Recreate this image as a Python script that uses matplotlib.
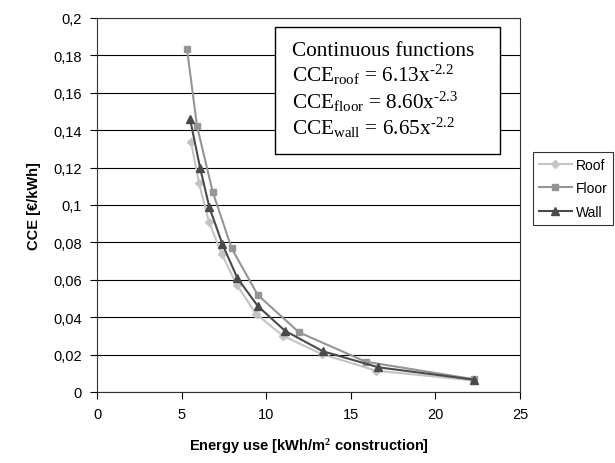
import matplotlib
matplotlib.use("Agg")
import matplotlib.pyplot as plt
from matplotlib.ticker import FuncFormatter

# ---------------------------
# Data
# ---------------------------
roof_x = [5.56, 6.03, 6.62, 7.37, 8.26, 9.40, 11.0, 13.28, 16.5, 22.2]
roof_y = [0.1335, 0.1116, 0.091, 0.0738, 0.0574, 0.0417, 0.030, 0.0203, 0.0114, 0.0062]

floor_x = [5.32, 5.91, 6.84, 7.96, 9.50, 11.94, 15.88, 22.3]
floor_y = [0.1834, 0.1422, 0.107, 0.0768, 0.0519, 0.0319, 0.0162, 0.0068]

wall_x = [5.50, 6.09, 6.64, 7.41, 8.29, 9.50, 11.1, 13.34, 16.63, 22.28]
wall_y = [0.146, 0.120, 0.0988, 0.0791, 0.061, 0.046, 0.0328, 0.0218, 0.0132, 0.0066]

x_ticks = [0, 5, 10, 15, 20, 25]
y_ticks = [0, 0.02, 0.04, 0.06, 0.08, 0.1, 0.12, 0.14, 0.16, 0.18, 0.2]

box_lines = [
    "Continuous functions",
    r"CCE$_{\mathrm{roof}}$ = 6.13x$^{\text{-2.2}}$",
    r"CCE$_{\mathrm{floor}}$ = 8.60x$^{\text{-2.3}}$",
    r"CCE$_{\mathrm{wall}}$ = 6.65x$^{\text{-2.2}}$",
]

plt.rcParams['font.family'] = ['Liberation Sans', 'DejaVu Sans']
plt.rcParams['mathtext.fontset'] = 'custom'
plt.rcParams['mathtext.rm'] = 'Liberation Serif'
plt.rcParams['mathtext.it'] = 'Liberation Serif:italic'
plt.rcParams['mathtext.bf'] = 'Liberation Serif:bold'

fig = plt.figure(figsize=(6.15, 4.64), dpi=100)
ax = fig.add_axes([97 / 615, 1 - 393 / 464, 423 / 615, 374 / 464])

ax.plot(roof_x, roof_y, color='#c4c4c4', lw=1.5, marker='D', ms=4, label='Roof')
ax.plot(floor_x, floor_y, color='#959595', lw=1.5, marker='s', ms=5, label='Floor')
ax.plot(wall_x, wall_y, color='#4a4a4a', lw=1.5, marker='^', ms=5.5, label='Wall')

ax.set_xlim(0, 25)
ax.set_ylim(0, 0.2)
ax.set_xticks(x_ticks)
ax.set_yticks(y_ticks)
ax.yaxis.set_major_formatter(FuncFormatter(lambda v, p: ('%g' % round(v, 2)).replace('.', ',')))
ax.tick_params(direction='out', length=5, width=0.8, labelsize=10.5, pad=6, colors='black')
ax.grid(axis='y', color='black', lw=0.8)
ax.set_axisbelow(True)
for s in ax.spines.values():
    s.set_color('#333333')
    s.set_linewidth(0.8)

ax.set_xlabel(r"Energy use [kWh/m$^\mathbf{2}$ construction]", fontsize=10.5, fontweight='bold', labelpad=11)
ax.set_ylabel("CCE [€/kWh]", fontsize=10.5, fontweight='bold', labelpad=9)

# Text box with the fitted functions
fig.text(292 / 615, 1 - 42 / 464, "\n".join(box_lines), family='Liberation Serif', fontsize=15.3,
         va='top', ha='left', linespacing=1.12)
fig.patches.append(plt.Rectangle((275 / 615, 1 - 155 / 464), 225 / 615, 127 / 464,
                                 transform=fig.transFigure, fc='white', ec='black', lw=1.0, zorder=1))

leg = fig.legend(loc='upper left', bbox_to_anchor=(533 / 615, 1 - 153 / 464), fontsize=10,
                 frameon=True, fancybox=False, edgecolor='black', handlelength=2.4,
                 borderpad=0.4, labelspacing=0.7, handletextpad=0.3, borderaxespad=0)
leg.get_frame().set_linewidth(0.8)

fig.savefig("out.png", dpi=100)
